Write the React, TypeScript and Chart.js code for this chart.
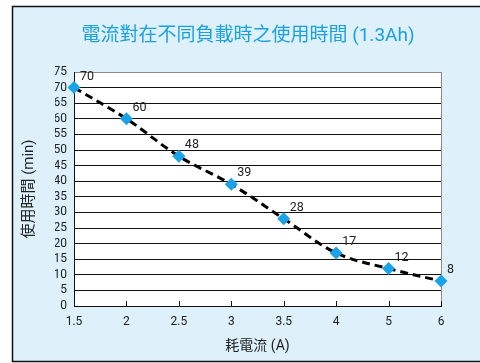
import React, { useEffect, useRef } from "react";
import { Chart, registerables } from "chart.js";

Chart.register(...registerables);

const categories = ["1.5", "2", "2.5", "3", "3.5", "4", "5", "6"];
const runtimeMin = [70, 60, 48, 39, 28, 17, 12, 8];
const chartTitle = "電流對在不同負載時之使用時間 (1.3Ah)";
const xTitle = "耗電流 (A)";
const yTitle = "使用時間 (min)";

const FONT = 'Roboto, "Noto Sans CJK TC", sans-serif';

const decorPlugin = {
  id: "decor",
  beforeDraw(chart: any) {
    const { ctx, chartArea } = chart;
    ctx.save();
    ctx.fillStyle = "#def0fa";
    ctx.fillRect(12, 6, 480, 356);
    ctx.strokeStyle = "#111";
    ctx.lineWidth = 1.5;
    ctx.strokeRect(12.5, 6.5, 480, 355);
    ctx.fillStyle = "#ffffff";
    ctx.fillRect(chartArea.left, chartArea.top, chartArea.right - chartArea.left, chartArea.bottom - chartArea.top);
    ctx.restore();
  },
  beforeDatasetsDraw(chart: any) {
    const { ctx, chartArea } = chart;
    const xs = chart.scales.x;
    ctx.save();
    ctx.strokeStyle = "#888";
    ctx.lineWidth = 1;
    ctx.beginPath();
    ctx.moveTo(Math.round(chartArea.right) + 0.5, chartArea.top);
    ctx.lineTo(Math.round(chartArea.right) + 0.5, chartArea.bottom);
    ctx.stroke();
    ctx.strokeStyle = "#111";
    for (let i = 1; i < categories.length; i++) {
      const x = Math.round(xs.getPixelForValue(i)) + 0.5;
      ctx.beginPath();
      ctx.moveTo(x, chartArea.bottom);
      ctx.lineTo(x, chartArea.bottom - 5);
      ctx.stroke();
    }
    ctx.restore();
  },
  afterDatasetsDraw(chart: any) {
    const { ctx } = chart;
    const meta = chart.getDatasetMeta(0);
    ctx.save();
    ctx.font = `12.5px ${FONT}`;
    ctx.fillStyle = "#222";
    ctx.textAlign = "left";
    ctx.textBaseline = "middle";
    meta.data.forEach((pt: any, i: number) => {
      ctx.fillText(String(runtimeMin[i]), pt.x + 6, pt.y - 11);
    });
    ctx.restore();
  },
};

export default function App() {
  const ref = useRef<HTMLCanvasElement>(null);
  useEffect(() => {
    if (!ref.current) return;
    const chart = new Chart(ref.current, {
      type: "line",
      data: {
        labels: categories,
        datasets: [
          {
            data: runtimeMin,
            borderColor: "#000",
            borderWidth: 3,
            borderDash: [8, 5],
            tension: 0.35,
            pointStyle: "rectRot",
            pointRadius: 6.5,
            pointHoverRadius: 6.5,
            pointBackgroundColor: "#1aa3e8",
            pointBorderWidth: 0,
          },
        ],
      },
      options: {
        animation: false,
        responsive: false,
        events: [],
        layout: { padding: { left: 55, right: 39, top: 0, bottom: 0 } },
        plugins: {
          legend: { display: false },
          tooltip: { enabled: false },
          title: {
            display: true,
            text: chartTitle,
            color: "#1ba1e2",
            font: { family: FONT, size: 19, weight: "normal" },
            padding: { top: 25, bottom: 24.2 },
          },
        },
        scales: {
          x: {
            type: "category",
            offset: false,
            grid: { display: false, drawTicks: false },
            border: { color: "#111", width: 1 },
            ticks: { color: "#222", font: { family: FONT, size: 12 }, padding: 9, maxRotation: 0, autoSkip: false },
            title: {
              display: true,
              text: xTitle,
              color: "#222",
              font: { family: FONT, size: 14 },
              padding: { top: 0, bottom: 8.6 },
            },
            afterFit(s: any) {
              s.height = 57;
            },
          },
          y: {
            min: 0,
            max: 75,
            grid: {
              drawTicks: false,
              color: (c: any) => (c.tick && c.tick.value === 75 ? "#888" : "#111"),
              lineWidth: 1,
            },
            border: { color: "#111", width: 1 },
            ticks: { stepSize: 5, autoSkip: false, color: "#222", font: { family: FONT, size: 12 }, padding: 7 },
            title: {
              display: true,
              text: yTitle,
              color: "#222",
              font: { family: FONT, size: 15 },
              padding: { top: -35, bottom: 0 },
            },
            afterFit(s: any) {
              s.width = 19;
            },
          },
        },
      },
      plugins: [decorPlugin],
    });
    return () => chart.destroy();
  }, []);
  return (
    <div style={{ position: "absolute", left: 0, top: 0, width: 480, height: 363 }}>
      <canvas ref={ref} width={480} height={363} style={{ width: 480, height: 363, display: "block" }} />
    </div>
  );
}
